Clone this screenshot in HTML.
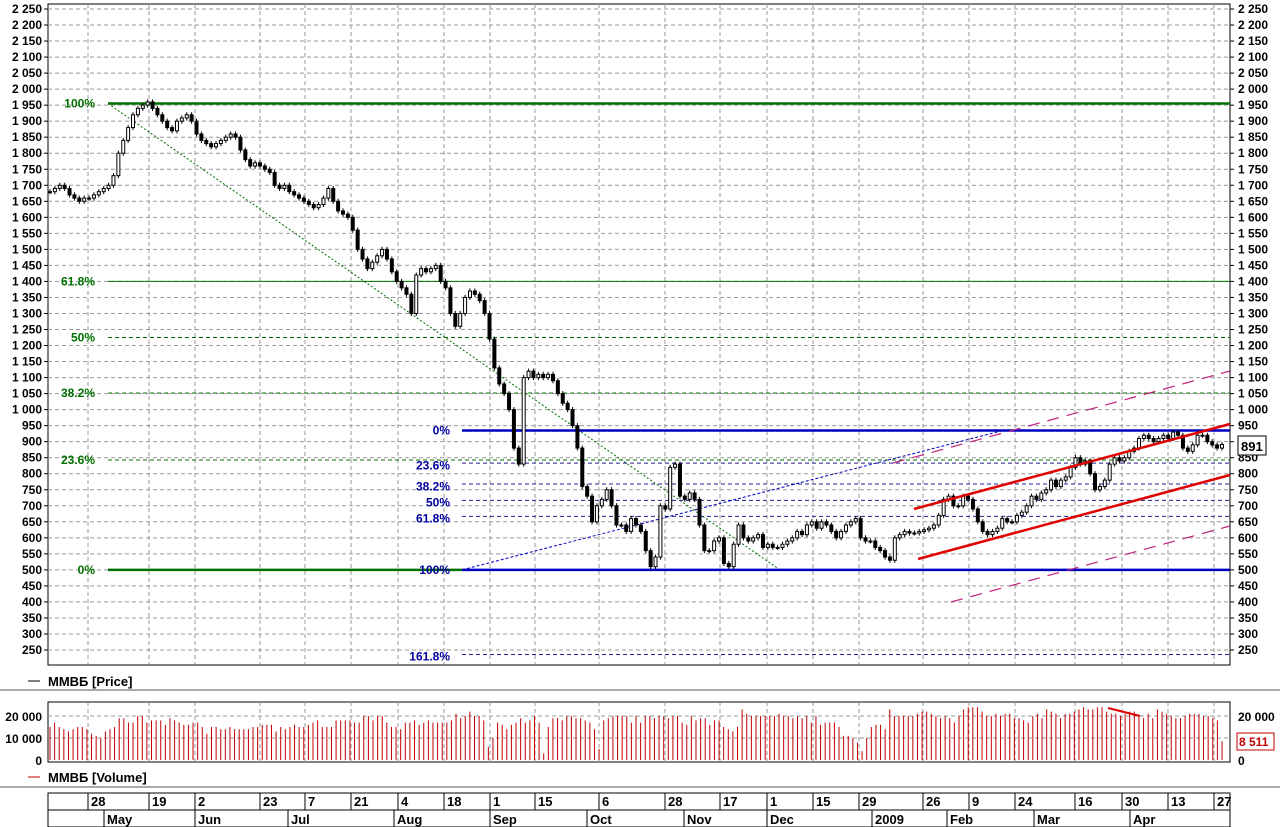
<!DOCTYPE html>
<html><head><meta charset="utf-8">
<style>
html,body{margin:0;padding:0;background:#fff;}
svg{display:block;font-family:"Liberation Sans",sans-serif;}
svg text{font-weight:bold;}
</style></head>
<body>
<svg id="c" width="1280" height="827" viewBox="0 0 1280 827"></svg>
<script>
const closes=[1680,1690,1700,1690,1670,1660,1650,1660,1660,1670,1680,1690,1700,
1730,1800,1840,1880,1920,1940,1950,1960,1940,
1920,1900,1880,1870,1900,1910,1920,1900,
1860,1840,1830,1820,1830,1840,1850,1860,1850,1810,1780,1760,1770,
1760,1750,1740,1700,1690,1700,1680,1670,
1660,1650,1640,1630,1640,1660,1690,1650,1620,1610,
1600,1560,1500,1470,1440,1460,1480,1500,1470,1430,1400,
1380,1360,1300,1420,1440,1430,1440,1450,
1400,1380,1300,1260,1300,1350,1370,1360,1340,
1300,1220,1130,1080,1050,1000,880,830,1100,1120,1100,
1110,1100,1110,1090,1050,1020,1000,950,880,
760,730,650,700,720,750,700,640,640,620,660,640,
620,560,510,540,700,690,820,830,730,720,740,
720,640,560,560,590,600,520,510,580,640,600,
590,600,610,570,580,570,570,580,590,600,
620,610,640,650,630,650,640,620,600,
620,640,650,660,600,590,590,570,560,
540,530,600,610,620,615,
615,620,625,630,640,670,720,730,700,700,
730,720,690,650,620,
610,620,630,660,650,650,670,680,700,
730,720,740,750,780,760,780,790,820,
850,830,840,800,750,760,780,830,
850,840,850,870,880,910,920,
910,900,910,920,910,930,920,880,870,890,920,920,900,890,880,891];
const volumes=[15,17,15,14,13,14,15,15,14,12,11,10,13,14,15,19,19,17,17,20,20,17,18,18,18,16,19,18,17,16,16,17,17,15,12,15,15,14,14,15,14,14,14,14,15,15,16,16,16,13,15,14,15,16,15,15,16,17,18,15,15,15,18,18,18,18,17,17,20,20,18,20,20,17,15,15,14,17,17,18,16,17,18,17,17,17,17,18,21,19,20,22,20,20,18,6,10,17,16,14,16,17,19,17,18,20,17,3,15,19,19,18,20,20,19,19,18,17,14,5,18,19,20,20,20,20,17,20,17,20,20,19,20,20,19,20,20,17,16,20,18,19,19,16,18,18,15,14,13,15,23,21,20,20,20,20,20,20,21,20,20,19,20,19,20,17,20,16,17,17,17,15,11,11,10,8,4,10,15,16,16,14,23,20,20,20,20,20,21,22,22,21,20,19,20,19,17,20,23,24,24,24,22,20,20,21,20,21,21,19,19,18,17,20,21,19,23,22,21,19,21,21,22,23,24,23,23,24,24,22,21,21,20,21,22,22,20,19,21,19,23,22,21,20,19,19,20,21,21,21,20,20,19,18,8.5];
const priceTicks=[250,300,350,400,450,500,550,600,650,700,750,800,850,900,950,1000,1050,1100,1150,1200,1250,1300,1350,1400,1450,1500,1550,1600,1650,1700,1750,1800,1850,1900,1950,2000,2050,2100,2150,2200,2250];
const volTicks=[0,10000,20000];
const dayLabels=["28","19","2","23","7","21","4","18","1","15","6","28","17","1","15","29","26","9","24","16","30","13","27"];
const dayX=[88,149,195,260,305,351,398,444,490,535,599,665,720,767,813,859,923,969,1015,1075,1122,1168,1214];
const monthLabels=["May","Jun","Jul","Aug","Sep","Oct","Nov","Dec","2009","Feb","Mar","Apr"];
const monthX=[104,195,288,394,490,587,684,767,872,947,1034,1130];

const NS="http://www.w3.org/2000/svg";
const svg=document.getElementById('c');
function el(tag,attrs,parent){const e=document.createElementNS(NS,tag);for(const k in attrs)e.setAttribute(k,attrs[k]);(parent||svg).appendChild(e);return e;}
function txt(s,attrs){const e=el('text',attrs);e.textContent=s;return e;}
const L=48,R=1230,T=4,B=665;
const yP=p=>650-(p-250)*0.3205;
const vTop=702,vBot=762;
const yV=v=>760-v*0.0022;

let f=el('rect',{x:L,y:T,width:R-L,height:B-T,fill:'#fff',stroke:'#000','stroke-width':1});

priceTicks.forEach(p=>{
  const y=yP(p);
  let g=el('line',{x1:L,x2:R,y1:y,y2:y,stroke:'#999','stroke-dasharray':'4,3','stroke-width':1});
  
  const s=p>=1000?Math.floor(p/1000)+' '+String(p%1000).padStart(3,'0'):String(p);
  let a=txt(s,{x:42,y:y+4,'text-anchor':'end','font-size':12,fill:'#000'});
  
  let b=txt(s,{x:1238,y:y+4,'font-size':12,fill:'#000'});
  
  el('line',{x1:L-4,x2:L,y1:y,y2:y,stroke:'#000'});
  el('line',{x1:R,x2:R+4,y1:y,y2:y,stroke:'#000'});
});
dayX.forEach(x=>{
  let g=el('line',{x1:x,x2:x,y1:T,y2:B,stroke:'#999','stroke-dasharray':'4,3'});
  
});
function line(x1,y1,x2,y2,st,w,dash,name){let l=el('line',{x1,y1,x2,y2,stroke:st,'stroke-width':w});if(dash)l.setAttribute('stroke-dasharray',dash);return l;}
line(108,yP(1955),R,yP(1955),'#007000',2.5,null,'fib-100-line');
line(108,yP(1400),R,yP(1400),'#007000',1,null,'fib-61-line');
line(108,yP(1225),R,yP(1225),'#007000',1,'4,3','fib-50-line');
line(108,yP(1052),R,yP(1052),'#007000',1,'4,3','fib-38-line');
line(108,yP(843),R,yP(843),'#007000',1,'4,3','fib-23-line');
line(108,yP(500),462,yP(500),'#007000',2.5,null,'fib-0-line');
line(108,yP(1955),780,yP(500),'#007000',1,'2,2','fib-trend-green');
[["100%",1955],["61.8%",1400],["50%",1225],["38.2%",1052],["23.6%",843],["0%",500]].forEach(([s,p])=>{
  let t=txt(s,{x:95,y:yP(p)+4,'text-anchor':'end','font-size':12,fill:'#007000'});
  
});
line(462,yP(935),R,yP(935),'#0000c0',2.5,null,'fib2-0-line');
line(462,yP(500),R,yP(500),'#0000c0',2.5,null,'fib2-100-line');
[[833,'fib2-23-line'],[768,'fib2-38-line'],[717,'fib2-50-line'],[667,'fib2-61-line'],[236,'fib2-161-line']].forEach(([p,n])=>line(462,yP(p),R,yP(p),'#202090',1,'4,3',n));
line(462,yP(500),1003,yP(935),'#0000c0',1,'3,2','fib2-trend-blue');
[["0%",935],["23.6%",825],["38.2%",760],["50%",710],["61.8%",660],["100%",500],["161.8%",230]].forEach(([s,p])=>{
  let t=txt(s,{x:450,y:yP(p)+4,'text-anchor':'end','font-size':12,fill:'#0000a0'});
  
});
const N=closes.length,step=(1222-50)/(N-1);
for(let i=0;i<N;i++){
  const x=50+i*step,c=closes[i],o=i?closes[i-1]:c;
  const hi=Math.max(o,c)+8,lo=Math.min(o,c)-8;
  let w=el('line',{x1:x,x2:x,y1:yP(hi),y2:yP(lo),stroke:'#000'});
  
  const top=yP(Math.max(o,c)),h=Math.max(1,yP(Math.min(o,c))-top);
  let b=el('rect',{x:x-1.5,y:top,width:3,height:h,fill:c>=o?'#fff':'#000',stroke:'#000','stroke-width':1});
  
}
line(914,509,R,424,'#e00000',2.5,null,'channel-upper');
line(918,559,R,475,'#e00000',2.5,null,'channel-lower');
line(893,463,R,371,'#c02080',1.2,'12,8','channel-outer-upper');
line(951,602,R,526,'#c02080',1.2,'12,8','channel-outer-lower');
let pb=el('rect',{x:1238,y:436,width:28,height:19,fill:'#fff',stroke:'#000'});

let pt=txt('891',{x:1241,y:451,'font-size':13,fill:'#000'});

line(0,690,1280,690,'#aaa',2,null,'panel-separator');
line(28,681,40,681,'#000',1,null,'legend-price-swatch');
let lp=txt('ММВБ [Price]',{x:48,y:686,'font-size':13,fill:'#000'});

let vf=el('rect',{x:L,y:vTop,width:R-L,height:vBot-vTop,fill:'#fff',stroke:'#000'});

volTicks.forEach(v=>{
  const y=yV(v);
  if(v>0)line(L,y,R,y,'#999',1,'4,3','volume-gridline');
  const s=v>=1000?Math.floor(v/1000)+' 000':'0';
  let a=txt(s,{x:42,y:y+5,'text-anchor':'end','font-size':12,fill:'#000'});
  
  let b=txt(s,{x:1238,y:y+5,'font-size':12,fill:'#000'});
  
});
dayX.forEach(x=>line(x,vTop,x,vBot,'#999',1,'4,3','volume-date-gridline'));
const NV=volumes.length,vs=(1222-50)/(NV-1);
for(let i=0;i<NV;i++){
  const x=50+i*vs;
  let b=el('line',{x1:x,x2:x,y1:yV(volumes[i]*1000),y2:760,stroke:'#c00000','stroke-width':1});
  
}
line(1108,708,1140,716,'#e00000',2,null,'volume-trend-line');
let vb=el('rect',{x:1237,y:733,width:37,height:17,fill:'#fff',stroke:'#c00000'});

let vt=txt('8 511',{x:1239,y:746,'font-size':12,fill:'#c00000'});

line(28,777,40,777,'#c00000',1,null,'legend-volume-swatch');
let lv=txt('ММВБ [Volume]',{x:48,y:782,'font-size':13,fill:'#000'});

line(0,787,1280,787,'#aaa',2,null,'panel-separator');
let da=el('rect',{x:L,y:793,width:R-L,height:34,fill:'#fff',stroke:'#000'});

line(L,810,R,810,'#000',1,null,'date-axis-divider');
dayLabels.forEach((s,i)=>{
  line(dayX[i],793,dayX[i],810,'#000',1,null,'day-separator');
  let t=txt(s,{x:dayX[i]+3,y:806,'font-size':13,fill:'#000'});
  
});
monthLabels.forEach((s,i)=>{
  line(monthX[i],810,monthX[i],827,'#000',1,null,'month-separator');
  let t=txt(s,{x:monthX[i]+3,y:824,'font-size':13,fill:'#000'});
  
});
</script>
</body></html>
